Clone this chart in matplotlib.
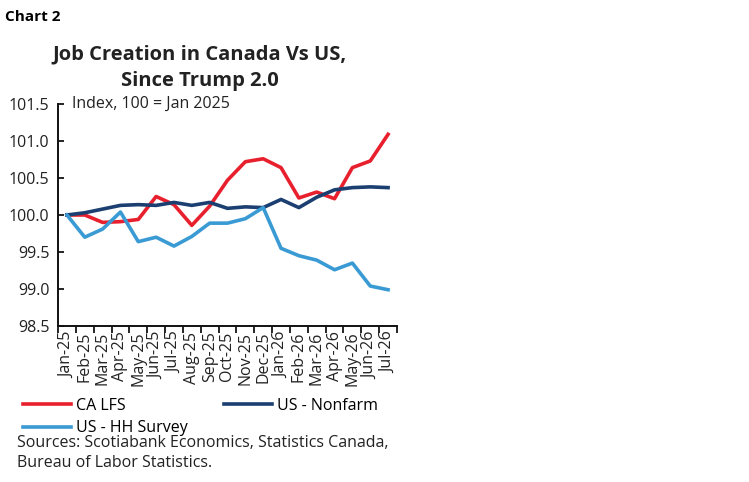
import matplotlib
matplotlib.use("Agg")
import matplotlib.pyplot as plt
import numpy as np

months = ["Jan-25", "Feb-25", "Mar-25", "Apr-25", "May-25", "Jun-25", "Jul-25",
          "Aug-25", "Sep-25", "Oct-25", "Nov-25", "Dec-25", "Jan-26", "Feb-26",
          "Mar-26", "Apr-26", "May-26", "Jun-26", "Jul-26"]
ca_lfs = [100.0, 100.0, 99.90, 99.91, 99.94, 100.25, 100.14, 99.86, 100.12, 100.47,
          100.72, 100.76, 100.64, 100.23, 100.31, 100.22, 100.64, 100.73, 101.09]
us_nonfarm = [100.0, 100.03, 100.08, 100.13, 100.14, 100.13, 100.17, 100.13, 100.17,
              100.09, 100.11, 100.10, 100.21, 100.10, 100.24, 100.34, 100.37, 100.38, 100.37]
us_hh = [100.0, 99.70, 99.81, 100.04, 99.64, 99.70, 99.58, 99.71, 99.89, 99.89,
         99.95, 100.10, 99.55, 99.45, 99.39, 99.26, 99.35, 99.04, 98.99]
yticks = [98.5, 99.0, 99.5, 100.0, 100.5, 101.0, 101.5]

RED = "#E8202E"
NAVY = "#1C3F72"
LBLUE = "#3A9AD4"
FONT = ["Open Sans", "DejaVu Sans"]
plt.rcParams["font.family"] = FONT

fig = plt.figure(figsize=(7.49, 4.82), dpi=100)
ax = fig.add_axes([58/749, 1-326/482, (397-58)/749, (326-104)/482])

x = np.arange(len(months))
l1, = ax.plot(x, ca_lfs, color=RED, lw=2.6, label="CA LFS")
l2, = ax.plot(x, us_nonfarm, color=NAVY, lw=2.6, label="US - Nonfarm")
l3, = ax.plot(x, us_hh, color=LBLUE, lw=2.6, label="US - HH Survey")

ax.set_xlim(-0.5, len(months) - 0.5)
ax.set_ylim(98.5, 101.5)
ax.set_yticks(yticks)
ax.set_yticklabels([f"{v:.1f}" for v in yticks], fontsize=11.5, color="#222222")
ax.tick_params(axis="y", direction="in", length=4, width=1.2, pad=6)
ax.set_xticks(x)
ax.set_xticklabels(months, rotation=90, fontsize=11.5, color="#222222")
ax.tick_params(axis="x", which="major", length=0, pad=4)
ax.set_xticks(np.arange(-0.5, len(months), 1), minor=True)
ax.tick_params(axis="x", which="minor", direction="out", length=5, width=1.2)
for s in ["top", "right"]:
    ax.spines[s].set_visible(False)
for s in ["left", "bottom"]:
    ax.spines[s].set_linewidth(1.4)
    ax.spines[s].set_color("#111111")

ax.text(0.04, 1.0, "Index, 100 = Jan 2025", transform=ax.transAxes, fontsize=11.5,
        va="center", ha="left", color="#222222")

fig.text(5/749, 1-17/482, "Chart 2", fontsize=11, fontweight="bold", va="center", ha="left")
fig.text(200/749, 1-68/482, "Job Creation in Canada Vs US,\nSince Trump 2.0", fontsize=14.5,
         fontweight="bold", va="center", ha="center", linespacing=1.45, color="#222222")

fig.legend(handles=[l1, l3, l2], loc="upper left", bbox_to_anchor=(23/749, 1-398/482),
           ncol=2, frameon=False, fontsize=11.5, handlelength=3.0, handletextpad=0.3,
           columnspacing=2.3, labelspacing=0.4, borderpad=0, borderaxespad=0)

fig.text(17/749, 1-453/482, "Sources: Scotiabank Economics, Statistics Canada,\nBureau of Labor Statistics.",
         fontsize=11.5, va="center", ha="left", linespacing=1.3, color="#222222")

fig.savefig("out.png", dpi=100)
